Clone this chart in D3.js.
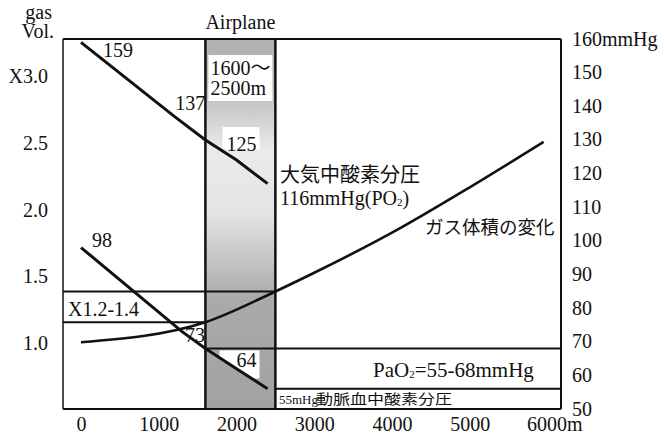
<!DOCTYPE html>
<html><head><meta charset="utf-8">
<script src="https://cdn.jsdelivr.net/npm/d3@7/dist/d3.min.js"></script>
<style>
html,body{margin:0;padding:0;background:#fff;}
text{font-family:"Liberation Serif","DejaVu Serif","Noto Sans CJK JP",serif;fill:#111;}
.cjk{font-family:"Noto Sans CJK JP","Liberation Serif",sans-serif;}
</style></head>
<body>
<svg id="c" width="664" height="435"></svg>
<script>
// ---- data ----
const altTicks = [0, 1000, 2000, 3000, 4000, 5000, 6000];
const altTickLabels = ["0", "1000", "2000", "3000", "4000", "5000", "6000m"];
const volTicks = [1.0, 1.5, 2.0, 2.5, 3.0];
const volTickLabels = ["1.0", "1.5", "2.0", "2.5", "X3.0"];
const mmTicks = [50, 60, 70, 80, 90, 100, 110, 120, 130, 140, 150, 160];
const mmTickLabels = ["50", "60", "70", "80", "90", "100", "110", "120", "130", "140", "150", "160mmHg"];

// atmospheric oxygen partial pressure (mmHg)
const atmAlt = [0, 1200, 1600, 2000, 2400];
const atmPO2 = [159, 137, 130, 124, 117];
const atmLabels = ["159", "137", "125"];
const atmLabelIdx = [0, 1, 3];

// arterial oxygen partial pressure (mmHg)
const paoAlt = [0, 1300, 1600, 2000, 2400];
const paoVal = [98, 73, 68, 62, 56];
const paoLabels = ["98", "73", "64"];
const paoLabelIdx = [0, 1, 3];

// gas volume ratio
const gasAlt = [0, 1600, 2500, 3000, 4000, 5000, 5950];
const gasVol = [1.0, 1.15, 1.38, 1.52, 1.82, 2.16, 2.50];

// airplane cabin altitude band
const cabinBand = [1600, 2500];
const volRange = [1.15, 1.38];   // X1.2-1.4
const paoRange = [56, 68];       // 55-68 mmHg

// ---- layout ----
const svg = d3.select("#c");
const L = 63, R = 561, T = 39, B = 409;
const x = d3.scaleLinear().domain([0, 6000]).range([81, 547.5]);
const yL = d3.scaleLinear().domain([0.5, 3.27]).range([B, T]);
const yR = d3.scaleLinear().domain([50, 160]).range([B, T]);

// band gradient
const defs = svg.append("defs");
const g = defs.append("linearGradient").attr("id", "bandG").attr("x1", 0).attr("y1", 0).attr("x2", 0).attr("y2", 1);
[[0, "#b0b0b0"], [0.12, "#bababa"], [0.2, "#cdcdcd"], [0.3, "#ebebeb"], [0.47, "#e4e4e4"], [0.6, "#c4c4c4"], [0.7, "#aaaaaa"], [1, "#a2a2a2"]]
  .forEach(s => g.append("stop").attr("offset", s[0]).attr("stop-color", s[1]));

const bx0 = x(cabinBand[0]), bx1 = x(cabinBand[1]);
svg.append("rect").attr("x", bx0).attr("y", T).attr("width", bx1 - bx0).attr("height", B - T).attr("fill", "url(#bandG)");

// white label backgrounds in band
svg.append("rect").attr("x", bx0 + 3).attr("y", T + 16).attr("width", bx1 - bx0 - 6).attr("height", 46).attr("fill", "#fff");
svg.append("rect").attr("x", x(atmAlt[3]) - 14).attr("y", yR(atmPO2[3]) - 33).attr("width", 37).attr("height", 22).attr("fill", "#fff");

// white area behind "64", above PaO2 line
const clipArea = d3.area().x((d, i) => x(paoAlt[i])).y0(T).y1((d, i) => yR(paoVal[i]));
defs.append("clipPath").attr("id", "aboveP").append("path").attr("d", clipArea(paoAlt));
svg.append("rect").attr("x", x(paoAlt[3]) - 17).attr("y", yR(paoRange[1]) + 2).attr("width", 40).attr("height", 28)
  .attr("fill", "#fff").attr("clip-path", "url(#aboveP)");

// frame
const frame = svg.append("g").attr("stroke", "#111").attr("fill", "none");
frame.append("line").attr("x1", L).attr("x2", R).attr("y1", T).attr("y2", T).attr("stroke-width", 2);
frame.append("line").attr("x1", L).attr("x2", R).attr("y1", B).attr("y2", B).attr("stroke-width", 2);
frame.append("line").attr("x1", L).attr("x2", L).attr("y1", T).attr("y2", B).attr("stroke-width", 1.5);
frame.append("line").attr("x1", R).attr("x2", R).attr("y1", T).attr("y2", B).attr("stroke-width", 2);
frame.append("line").attr("x1", bx0).attr("x2", bx0).attr("y1", T).attr("y2", B).attr("stroke-width", 2.5);
frame.append("line").attr("x1", bx1).attr("x2", bx1).attr("y1", T).attr("y2", B).attr("stroke-width", 2.5);

// range boxes
frame.append("line").attr("x1", L).attr("x2", bx1).attr("y1", yL(volRange[1])).attr("y2", yL(volRange[1])).attr("stroke-width", 2);
frame.append("line").attr("x1", L).attr("x2", bx0).attr("y1", yL(volRange[0])).attr("y2", yL(volRange[0])).attr("stroke-width", 2);
frame.append("line").attr("x1", bx0).attr("x2", R).attr("y1", yR(paoRange[1])).attr("y2", yR(paoRange[1])).attr("stroke-width", 2);
frame.append("line").attr("x1", bx1).attr("x2", R).attr("y1", yR(paoRange[0])).attr("y2", yR(paoRange[0])).attr("stroke-width", 2);

// curves
const lineR = d3.line().x(d => x(d[0])).y(d => yR(d[1]));
const lineL = d3.line().x(d => x(d[0])).y(d => yL(d[1])).curve(d3.curveMonotoneX);
svg.append("path").attr("d", lineR(atmAlt.map((a, i) => [a, atmPO2[i]]))).attr("fill", "none").attr("stroke", "#111").attr("stroke-width", 3);
svg.append("path").attr("d", lineR(paoAlt.map((a, i) => [a, paoVal[i]]))).attr("fill", "none").attr("stroke", "#111").attr("stroke-width", 3);
svg.append("path").attr("d", lineL(gasAlt.map((a, i) => [a, gasVol[i]]))).attr("fill", "none").attr("stroke", "#111").attr("stroke-width", 2.6);

// axes
const fs = "20px";
const ax = svg.append("g").attr("transform", `translate(0,${B})`)
  .call(d3.axisBottom(x).tickValues(altTicks).tickSize(0).tickPadding(0).tickFormat((d, i) => altTickLabels[i]));
ax.select(".domain").remove();
ax.selectAll("text").attr("font-size", fs).attr("dy", "22px").attr("font-family", null);
ax.selectAll(".tick").filter((d, i) => i === altTicks.length - 1).select("text").attr("text-anchor", "start").attr("dx", "-21px");

const al = svg.append("g").attr("transform", `translate(48,0)`)
  .call(d3.axisLeft(yL).tickValues(volTicks).tickSize(0).tickPadding(0).tickFormat((d, i) => volTickLabels[i]));
al.select(".domain").remove();
al.selectAll("text").attr("font-size", fs).attr("dy", "0.37em").attr("font-family", null);

const ar = svg.append("g").attr("transform", `translate(572,0)`)
  .call(d3.axisRight(yR).tickValues(mmTicks).tickSize(0).tickPadding(0).tickFormat((d, i) => mmTickLabels[i]));
ar.select(".domain").remove();
ar.selectAll("text").attr("font-size", fs).attr("dy", "0.3em").attr("font-family", null);

// axis titles
svg.append("text").attr("x", 52).attr("y", 19).attr("text-anchor", "end").attr("font-size", fs).text("gas");
svg.append("text").attr("x", 54).attr("y", 38).attr("text-anchor", "end").attr("font-size", fs).text("Vol.");
svg.append("text").attr("x", (bx0 + bx1) / 2).attr("y", 29).attr("text-anchor", "middle").attr("font-size", fs).text("Airplane");

// point labels
const atmOff = [[22, 15], [1, -6], [-10, -9]];
atmLabelIdx.forEach((k, j) => {
  svg.append("text").attr("x", x(atmAlt[k]) + atmOff[j][0]).attr("y", yR(atmPO2[k]) + atmOff[j][1])
    .attr("font-size", fs).text(atmLabels[j]);
});
const paoOff = [[11, -1], [3, 10], [0, -2]];
paoLabelIdx.forEach((k, j) => {
  svg.append("text").attr("x", x(paoAlt[k]) + paoOff[j][0]).attr("y", yR(paoVal[k]) + paoOff[j][1])
    .attr("font-size", fs).text(paoLabels[j]);
});

// band label
svg.append("text").attr("x", bx0 + 5).attr("y", 75).attr("font-size", fs).text("1600～");
svg.append("text").attr("x", bx0 + 5).attr("y", 95).attr("font-size", fs).text("2500m");

// annotations
svg.append("text").attr("x", 68).attr("y", 316).attr("font-size", fs).text("X1.2-1.4");
svg.append("text").attr("class", "cjk").attr("x", 280).attr("y", 182).attr("font-size", "20px").text("大気中酸素分圧");
const t2 = svg.append("text").attr("x", 280).attr("y", 205).attr("font-size", fs);
t2.append("tspan").text("116mmHg(PO");
t2.append("tspan").attr("font-size", "11px").attr("dy", "1").text("2");
t2.append("tspan").attr("dy", "-1").text(")");
svg.append("text").attr("class", "cjk").attr("x", 425).attr("y", 234).attr("font-size", "18.5px").text("ガス体積の変化");
const t3 = svg.append("text").attr("x", 373).attr("y", 377).attr("font-size", "21px");
t3.append("tspan").text("PaO");
t3.append("tspan").attr("font-size", "11px").attr("dy", "1").text("2");
t3.append("tspan").attr("dy", "-1").text("=55-68mmHg");
svg.append("text").attr("x", 279).attr("y", 404).attr("font-size", "13px").text("55mHg");
svg.append("text").attr("class", "cjk").attr("x", 316).attr("y", 404).attr("font-size", "14px")
  .attr("textLength", 136).attr("lengthAdjust", "spacingAndGlyphs").text("動脈血中酸素分圧");
</script>
</body></html>
